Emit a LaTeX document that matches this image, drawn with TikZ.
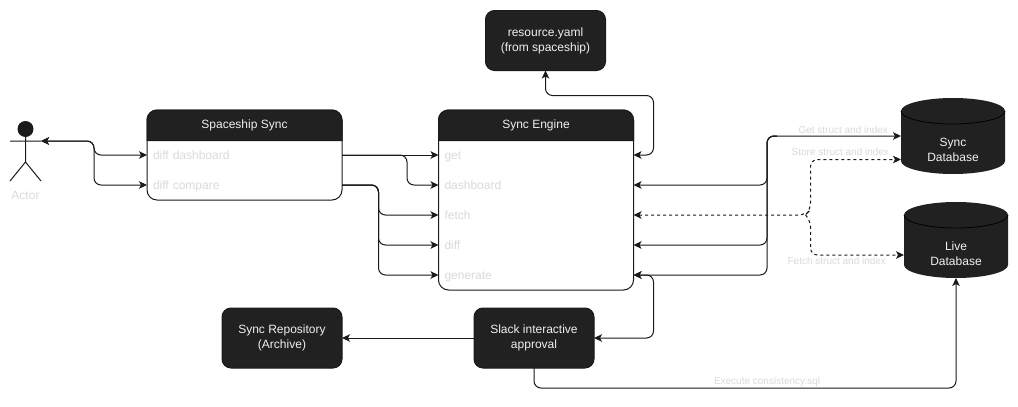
\documentclass[tikz,border=0pt]{standalone}
\usepackage{fontspec}
\setmainfont{Liberation Sans}
\usetikzlibrary{arrows.meta,calc}
\definecolor{darkfill}{HTML}{212121}
\definecolor{linecol}{HTML}{1A1A1A}
\definecolor{rowtext}{HTML}{DADADA}
\definecolor{headtext}{HTML}{F0F0F0}
\tikzset{
  x=1pt,y=-1pt,
  every node/.style={font=\fontsize{12}{15}\selectfont,inner sep=0pt,outer sep=0pt},
  tip/.tip={Stealth[length=8pt,width=7.5pt,inset=2pt]},
  conn/.style={draw=linecol,line width=1pt,rounded corners=7pt},
  fwd/.style={conn,-{tip}},
  bothw/.style={conn,{tip}-{tip}},
  back/.style={conn,{tip}-},
  dash conn/.style={conn,dashed,dash pattern=on 3pt off 3pt},
  lane/.style={draw=linecol,line width=1pt,fill=white,rounded corners=10pt,minimum width=195pt,anchor=north west},
  lanehead/.style={text=headtext,minimum width=195pt,minimum height=30pt,anchor=north west},
  rowitem/.style={text=rowtext,minimum height=30pt,anchor=north west,align=left,text width=183pt,inner xsep=6pt,text height=9pt,text depth=0.5pt},
  darkbox/.style={fill=darkfill,draw=linecol,line width=1pt,rounded corners=9pt,minimum width=120pt,minimum height=60pt,text=headtext,align=center,anchor=north west},
  dbbox/.style={minimum width=104pt,minimum height=76pt},
  dbtext/.style={text=headtext,align=center},
  edgelabel/.style={font=\fontsize{10}{12}\selectfont,text=rowtext},
}
\newcommand{\dbshape}[1]{%
  \fill[darkfill] (#1.north west)++(0,13) arc[start angle=180,end angle=0,x radius=52,y radius=-13]
    -- ++(0,50) arc[start angle=0,end angle=-180,x radius=52,y radius=-13] -- cycle;
  \draw[black,line width=0.8pt] (#1.north west)++(0,13) arc[start angle=180,end angle=360,x radius=52,y radius=-13];
}
\begin{document}
\begin{tikzpicture}
\useasboundingbox (0,0) rectangle (1018,407);
\fill[white] (0,0) rectangle (1018,407);

% Actor
\fill[linecol] (25.5,129) circle[radius=8];
\draw[linecol,line width=1pt] (25.5,137) -- (25.5,162) (10,141) -- (41,141) (10,181) -- (25.5,162) -- (41,181);
\coordinate (hand) at (41,141);
\node[text=rowtext] (actorlabel) at (25.5,195) {Actor};

% Spaceship Sync
\node[lane,minimum height=90pt] (spaceship) at (147,110) {};
\path[fill=darkfill,draw=linecol,line width=1pt] (147,140.5) [rounded corners=10pt] -- (147,110) -- (342,110) [sharp corners] -- (342,140.5) -- cycle;
\node[lanehead] (spaceshiphead) at (147,110) {Spaceship Sync};
\node[rowitem] (dashrow) at (147,140) {diff dashboard};
\node[rowitem] (cmprow) at (147,170) {diff compare};

% Sync Engine
\node[lane,minimum height=180pt] (engine) at (438.5,110) {};
\path[fill=darkfill,draw=linecol,line width=1pt] (438.5,140.5) [rounded corners=10pt] -- (438.5,110) -- (633.5,110) [sharp corners] -- (633.5,140.5) -- cycle;
\node[lanehead] (enginehead) at (438.5,110) {Sync Engine};
\node[rowitem] (getrow) at (438.5,140) {get};
\node[rowitem] (dbrow) at (438.5,170) {dashboard};
\node[rowitem] (fetchrow) at (438.5,200) {fetch};
\node[rowitem] (diffrow) at (438.5,230) {diff};
\node[rowitem] (genrow) at (438.5,260) {generate};

% Dark boxes
\node[darkbox] (resource) at (485.5,10.5) {resource.yaml\\(from spaceship)};
\node[darkbox] (repo) at (222,308) {Sync Repository\\(Archive)};
\node[darkbox] (slack) at (474,308) {Slack interactive\\approval};

% Databases
\node[dbbox] (syncdb) at (953,136) {};
\dbshape{syncdb}
\node[dbtext] (synctext) at (953,149.5) {Sync\\Database};
\node[dbbox] (livedb) at (956,240) {};
\dbshape{livedb}
\node[dbtext] (livetext) at (956,253.5) {Live\\Database};

% Connectors
\draw[bothw] (hand) -- ++(53,0) |- (dashrow.west);
\draw[bothw] (hand) -- ++(53,0) |- (cmprow.west);
\draw[fwd] (dashrow.east) -- (getrow.west);
\draw[fwd] (dashrow.east) -- ++(65,0) |- (dbrow.west);
\draw[fwd] (cmprow.east) -- ++(36.5,0) |- (fetchrow.west);
\draw[fwd] (cmprow.east) -- ++(36.5,0) |- (diffrow.west);
\draw[fwd] (cmprow.east) -- ++(36.5,0) |- (genrow.west);

\draw[bothw] (getrow.east) -- ++(20,0) |- ($(resource.south)+(0,25)$) -- (resource.south);
\draw[bothw] (genrow.east) -- ++(20,0) |- (slack.east);
\draw[fwd] (slack.west) -- (repo.east);
\draw[fwd] (slack.south) |- ($(slack.south)+(200,20)$) -| (livedb.south);

\draw[bothw] (dbrow.east) -| ($(syncdb.west)+(-134,0)$) -- (syncdb.west);
\draw[back] (diffrow.east) -| ($(syncdb.west)+(-134,0)$) -- ++(10,0);
\draw[back] (genrow.east) -| ($(syncdb.west)+(-134,0)$) -- ++(10,0);

\coordinate (split) at ($(fetchrow.east)+(172,0)$);
\draw[dash conn,{tip}-{tip}] (fetchrow.east) -- (split) -- ++(5,-5) |- ($(syncdb.west)+(0,23.5)$);
\draw[dash conn,-{tip}] (split) -- ++(5,5) |- ($(livedb.west)+(0,15)$);

% Edge labels
\node[edgelabel,anchor=east] (getlabel) at (888,130) {Get struct and index};
\node[edgelabel,anchor=east] (storelabel) at (889,151.5) {Store struct and index};
\node[edgelabel,anchor=east] (fetchlabel) at (886,260.5) {Fetch struct and index};
\node[edgelabel] (execlabel) at (767,382) {Execute consistency.sql};
\end{tikzpicture}
\end{document}
